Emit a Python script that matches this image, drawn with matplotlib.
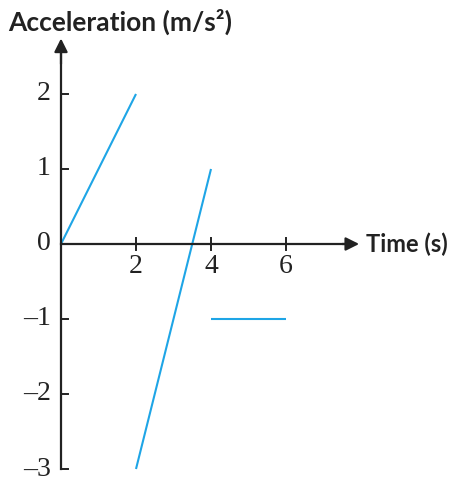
import matplotlib
matplotlib.use("Agg")
import matplotlib.pyplot as plt

# data: acceleration vs time, three segments
seg1_t = [0, 2]
seg1_a = [0, 2]
seg2_t = [2, 4]
seg2_a = [-3, 1]
seg3_t = [4, 6]
seg3_a = [-1, -1]

xticks = [2, 4, 6]
yticks = [-3, -2, -1, 0, 1, 2]
ytick_labels = ["\u20133", "\u20132", "\u20131", "0", "1", "2"]

line_col = "#1ea5e6"

fig = plt.figure(figsize=(4.65, 4.82), dpi=100)
ax = fig.add_axes([61/465, 13/482, 300/465, 430/482])
ax.set_xlim(0, 8)
ax.set_ylim(-3, 2.733)
ax.axis("off")

for t, a in [(seg1_t, seg1_a), (seg2_t, seg2_a), (seg3_t, seg3_a)]:
    ax.plot(t, a, color=line_col, lw=1.5, solid_capstyle="butt", clip_on=False)

# axes with arrows
ax.plot([0, 0], [-3, 2.55], color="#222222", lw=1.6, clip_on=False)
ax.plot([0, 7.6], [0, 0], color="#222222", lw=1.6, clip_on=False)
ax.annotate("", xy=(0, 2.74), xytext=(0, 2.4), annotation_clip=False,
            arrowprops=dict(arrowstyle="-|>", color="#222222", lw=1.6,
                            mutation_scale=20, shrinkA=0, shrinkB=0))
ax.annotate("", xy=(7.95, 0), xytext=(7.5, 0), annotation_clip=False,
            arrowprops=dict(arrowstyle="-|>", color="#222222", lw=1.6,
                            mutation_scale=20, shrinkA=0, shrinkB=0))

serif = "Liberation Serif"
# y ticks (pointing right)
for v, lab in zip(yticks, ytick_labels):
    ax.plot([0, 0.18], [v, v], color="#222222", lw=1.4, clip_on=False)
    ax.text(-0.27, v, lab, ha="right", va="center", fontsize=20,
            family=serif, color="#222222")

# x ticks (crossing)
for v in xticks:
    ax.plot([v, v], [-0.08, 0.08], color="#222222", lw=1.4, clip_on=False)
    ax.text(v, -0.14, str(v), ha="center", va="top", fontsize=20,
            family=serif, color="#222222")

ax.text(8.13, 0, "Time (s)", ha="left", va="center", fontsize=17,
        fontweight="bold", family="Lato", color="#222222")
fig.text(8/465, 1 - 22/482, "Acceleration (m/s\u00b2)", ha="left", va="center",
         fontsize=19, fontweight="bold", family="Lato", color="#222222")

fig.savefig("out.png", dpi=100)
